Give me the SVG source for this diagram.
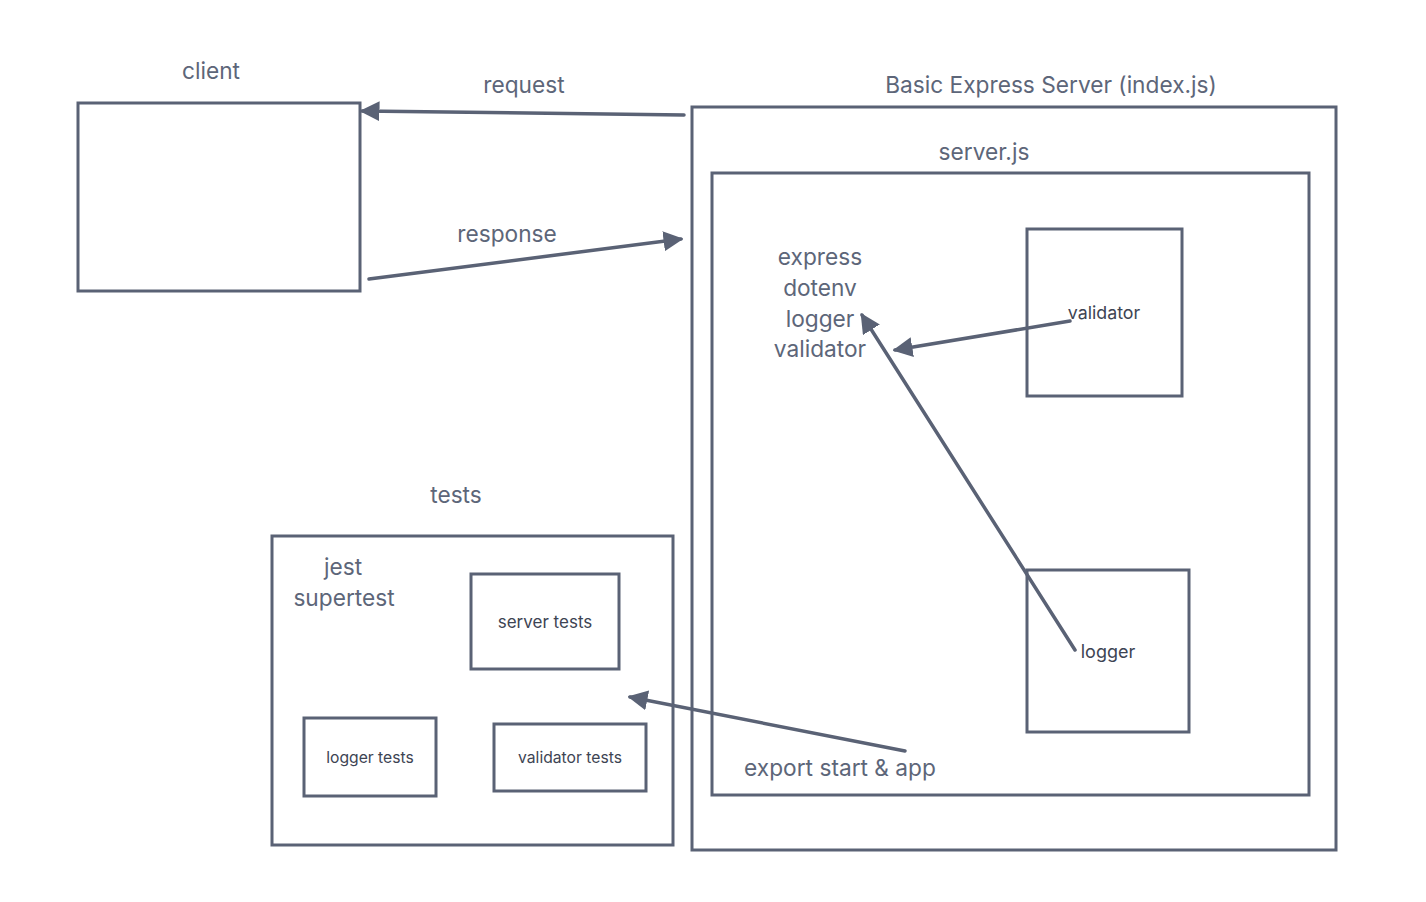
<svg xmlns="http://www.w3.org/2000/svg" width="1426" height="902" viewBox="0 0 1426 902">
<defs>
<style>
.box{fill:none;stroke:#5a6275;stroke-width:3}
.lbl{font-family:Inter,"Liberation Sans",sans-serif;font-size:22.7px;fill:#5d6679;text-anchor:middle}
.sm{font-family:Inter,"Liberation Sans",sans-serif;fill:#3d4453;text-anchor:middle}
.con{fill:none;stroke:#5a6275;stroke-width:3.5;stroke-linecap:round}
</style>
<marker id="ah" markerUnits="userSpaceOnUse" markerWidth="20" markerHeight="20" viewBox="0 0 16 16" refX="14" refY="8" orient="auto">
<path d="M0,0 L16,8 L0,16 Z" fill="#5a6275"/>
</marker>
</defs>
<rect width="1426" height="902" fill="#ffffff"/>
<g id="client">
<rect class="box" x="78" y="103" width="282" height="188"/>
<text class="lbl" x="211" y="79">client</text>
</g>
<g id="index">
<rect class="box" x="692" y="107" width="644" height="743"/>
<text class="lbl" x="1051" y="93">Basic Express Server (index.js)</text>
</g>
<g id="server">
<rect class="box" x="712" y="173" width="597" height="622"/>
<text class="lbl" x="984" y="160">server.js</text>
<text class="lbl" x="820" y="265">express</text>
<text class="lbl" x="820" y="296">dotenv</text>
<text class="lbl" x="820" y="327">logger</text>
<text class="lbl" x="820" y="357">validator</text>
<text class="lbl" x="840" y="776">export start &amp; app</text>
</g>
<g id="validator">
<rect class="box" x="1027" y="229" width="155" height="167"/>
<text class="sm" x="1104" y="319" font-size="17.8">validator</text>
</g>
<g id="logger">
<rect class="box" x="1027" y="570" width="162" height="162"/>
<text class="sm" x="1108" y="658" font-size="18">logger</text>
</g>
<g id="tests">
<rect class="box" x="272" y="536" width="401" height="309"/>
<text class="lbl" x="456" y="503">tests</text>
<text class="lbl" x="343" y="575">jest</text>
<text class="lbl" x="344" y="606">supertest</text>
</g>
<g id="server-tests">
<rect class="box" x="471" y="574" width="148" height="95"/>
<text class="sm" x="545" y="628" font-size="17">server tests</text>
</g>
<g id="logger-tests">
<rect class="box" x="304" y="718" width="132" height="78"/>
<text class="sm" x="370" y="763" font-size="15.7">logger tests</text>
</g>
<g id="validator-tests">
<rect class="box" x="494" y="724" width="152" height="67"/>
<text class="sm" x="570" y="763" font-size="15.7">validator tests</text>
</g>
<g id="connectors">
<line class="con" x1="684" y1="115" x2="362" y2="111" marker-end="url(#ah)"/>
<text class="lbl" x="524" y="93">request</text>
<line class="con" x1="369" y1="279" x2="681" y2="239" marker-end="url(#ah)"/>
<text class="lbl" x="507" y="242">response</text>
<line class="con" x1="1070" y1="321" x2="895" y2="350" marker-end="url(#ah)"/>
<line class="con" x1="1075" y1="650" x2="862" y2="315" marker-end="url(#ah)"/>
<line class="con" x1="905" y1="751" x2="630" y2="697" marker-end="url(#ah)"/>
</g>
</svg>
